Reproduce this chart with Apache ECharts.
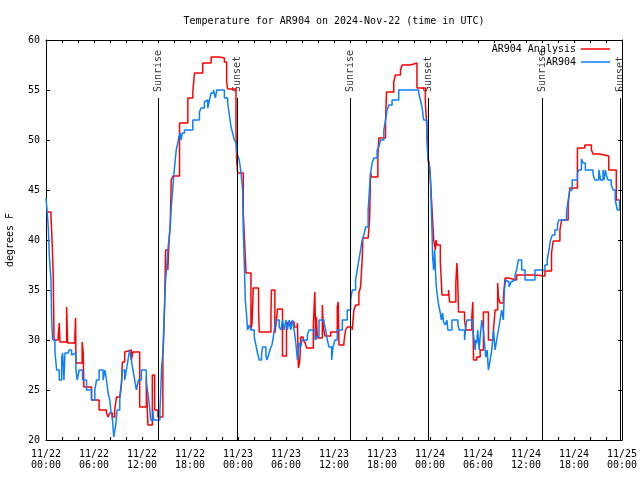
<!DOCTYPE html>
<html>
<head>
<meta charset="utf-8">
<script src="https://cdn.jsdelivr.net/npm/echarts@6/dist/echarts.min.js"></script>
<style>html,body{margin:0;padding:0;background:#fff}#c{width:640px;height:480px}</style>
</head>
<body>
<div id="c"></div>
<script>
const titleText = 'Temperature for AR904 on 2024-Nov-22 (time in UTC)';
const yAxisName = 'degrees F';
const seriesNames = ['AR904 Analysis', 'AR904'];
const tickDates = ['11/22','11/22','11/22','11/22','11/23','11/23','11/23','11/23','11/24','11/24','11/24','11/24','11/25'];
const tickTimes = ['00:00','06:00','12:00','18:00','00:00','06:00','12:00','18:00','00:00','06:00','12:00','18:00','00:00'];
const sunEventNames = ['Sunrise','Sunset','Sunrise','Sunset','Sunrise','Sunset'];
const sunEventHours = [14.04, 23.91, 38.06, 47.79, 62.04, 71.81];

// [hours since 11/22 00:00 UTC, degrees F]
const analysisPoints = [[0,42.8],[0.62,42.4],[0.78,39.5],[0.91,36.3],[1.0,30],[1.53,30.5],[1.66,31.7],[1.74,29.8],[2.58,33.3],[2.70,29.7],[3.61,30.3],[3.70,32.2],[3.74,27.7],[4.52,29.8],[4.65,28.7],[4.73,25.3],[5.69,24],[6.64,23],[7.56,22.7],[7.76,22.3],[7.97,22.7],[8.31,22.3],[8.59,23],[8.81,24.3],[9.22,24.2],[9.43,25.7],[9.55,27.8],[9.84,28.8],[10.05,29],[10.67,28],[10.87,28.8],[11.71,23.3],[12.54,26.3],[12.62,24],[12.74,21.5],[13.29,26.5],[13.58,23],[13.99,22.3],[14.61,28.3],[14.7,30],[14.82,33.3],[14.95,39],[15.23,37],[15.36,39.5],[15.53,41.7],[15.66,46],[15.86,46.4],[16.69,51.7],[17.73,54.2],[18.35,54.8],[18.56,56.7],[19.59,57.7],[20.64,58.3],[21.67,58.2],[22.3,57.8],[22.58,55.8],[22.71,55.1],[23.75,51],[23.83,48],[23.95,46.7],[24.66,42.7],[24.91,38.3],[25.0,36.7],[25.62,31],[25.75,31.7],[25.91,35.2],[26.57,33],[26.66,30.8],[28.12,32.8],[28.19,35],[28.61,30.7],[28.74,31.5],[28.94,33.1],[29.56,28.4],[30.06,31.3],[30.18,31.8],[30.39,31.4],[30.6,31.8],[31.02,31.3],[31.43,31.7],[31.55,27.2],[31.73,28],[31.85,30.3],[32.14,30],[32.39,29.7],[32.6,29.2],[33.42,31.5],[33.6,34.8],[33.72,30],[33.8,32.3],[33.92,30.2],[34.54,33.5],[34.67,31.2],[34.88,30.4],[35.59,30.8],[36.41,33.3],[36.53,33.8],[36.62,29.5],[37.24,29.8],[37.45,31],[37.66,31.3],[38.28,31],[38.49,33],[38.7,33.5],[39.11,34.7],[39.32,35.3],[39.52,38],[39.61,40.2],[40.27,40.3],[40.45,42],[40.57,46.7],[40.7,46.3],[41.48,48.3],[41.6,50.2],[42.44,51.7],[42.56,54.8],[43.47,55.8],[43.68,56.5],[44.31,57],[44.51,57.5],[45.55,57.7],[46.37,55.2],[47.42,53.8],[47.62,51],[47.75,48.3],[47.96,47.3],[48.17,44.3],[48.33,42],[48.46,40],[48.67,39],[48.75,40],[48.87,39.5],[49.29,37.8],[49.5,34.5],[50.32,35],[50.45,33.8],[51.23,35.7],[51.36,37.7],[51.45,36.3],[51.57,32.8],[52.32,32],[52.48,31],[53.23,32.3],[53.35,33.8],[53.44,28],[53.85,28.3],[54.27,29],[54.68,32.8],[55.3,30],[55.93,31],[56.14,33],[56.46,35.7],[56.55,34.3],[56.76,33.7],[57.17,34.3],[57.38,36.2],[57.8,36],[58.83,36.5],[61.12,36.4],[62.37,36.9],[63.19,38.7],[63.4,39.9],[64.24,41],[64.45,42],[65.27,43.5],[65.48,45.2],[66.43,49.2],[67.35,49.5],[68.18,49],[68.38,48.6],[69.22,48.4],[70.34,47],[71.29,44],[71.7,44]];

const observedPoints = [[0,44.2],[0.16,42.7],[0.29,41.2],[0.41,38.5],[0.62,36],[0.71,32],[0.83,30],[1.12,28.8],[1.33,27],[1.66,26],[1.96,28.2],[2.08,28.7],[2.24,26],[2.37,28.7],[2.78,28.5],[2.9,29],[3.2,28.5],[3.4,28.7],[3.74,27],[3.9,26],[4.15,27],[4.57,26],[5.07,25],[5.69,24],[6.1,25],[6.32,26],[6.64,27],[7.14,26],[7.35,27],[7.56,26],[7.76,24.7],[7.97,24],[8.1,23],[8.31,22],[8.47,20.3],[8.72,21.5],[8.88,23],[9.22,24],[9.43,25.5],[9.55,27],[9.84,26],[10.05,27],[10.25,28],[10.46,29],[10.67,28],[10.87,27],[11.09,26],[11.3,25],[11.55,26],[11.92,27],[12.54,25.7],[12.74,24.7],[12.95,23.3],[13.08,22],[13.37,23],[13.45,22],[14.24,23],[14.32,24.3],[14.45,27.3],[14.61,28.7],[14.74,31.7],[14.86,34.3],[14.95,36],[15.03,36.7],[15.23,39],[15.36,40],[15.53,41.3],[15.66,43.3],[15.86,45.3],[16.07,47.3],[16.28,49],[16.48,49.7],[16.6,50.3],[16.78,50.7],[16.9,50],[17.03,50.7],[17.31,51],[18.35,52],[19.18,52.8],[19.39,53.2],[19.8,53.8],[20.02,54],[20.22,53.2],[20.43,54],[20.64,54.7],[20.93,55],[21.18,54.2],[21.34,55],[22.3,54.2],[22.71,53.7],[22.92,52.5],[23.13,51.3],[23.33,50.7],[23.54,50],[23.75,49.7],[23.83,49],[23.95,48.5],[24.16,48],[24.38,46.7],[24.58,45],[24.66,41],[24.79,37.7],[24.91,34],[25.07,32.5],[25.2,31],[25.41,31.5],[25.62,31],[26.03,30.3],[26.24,29.5],[26.44,28.7],[26.66,28],[26.94,28.5],[27.07,29.3],[27.49,28.5],[27.62,28],[27.82,28.5],[27.99,29],[28.24,29.5],[28.4,30.2],[28.53,31],[28.74,32],[29.15,31.3],[29.36,31],[29.56,32],[29.77,31],[29.98,32],[30.18,31],[30.39,32],[30.6,31],[30.8,32],[31.02,31],[31.23,29.7],[31.43,28],[31.64,29.7],[31.85,29.3],[31.98,30],[32.67,30.5],[32.88,31],[33.63,30],[33.79,30.3],[34.13,32],[34.75,31.7],[34.96,31],[35.16,30],[35.38,29.3],[35.71,28],[35.87,29.3],[36.12,30],[36.41,31],[37.04,32],[37.66,33],[38.08,34],[38.28,35],[38.7,36],[38.9,37],[39.11,38],[39.32,39],[39.52,40],[39.74,40.5],[39.95,41.3],[40.27,43],[40.45,45.3],[40.57,46.7],[40.77,47.7],[40.98,48.2],[41.39,49],[41.6,49.3],[41.82,50],[42.23,51],[42.44,52],[42.64,53],[42.85,53.5],[43.26,54],[44.09,55],[46.59,54.7],[46.8,54],[47.0,53.3],[47.21,52],[47.62,50],[47.75,48],[47.92,47.3],[48.04,46.5],[48.25,41],[48.33,38.3],[48.46,37],[48.58,39],[48.75,35.7],[48.87,34.7],[49.08,33.5],[49.29,32.7],[49.42,32],[49.58,32.7],[49.7,31.8],[49.91,31.5],[50.11,32],[50.24,31],[50.74,32],[51.49,31.5],[51.66,31],[52.32,30],[52.41,30.8],[52.6,32],[53.31,31],[53.44,30.5],[53.65,29],[53.72,30],[53.85,29.7],[53.97,31],[54.15,29],[54.27,30.3],[54.47,32],[54.68,31],[54.81,29.7],[54.97,28.3],[55.14,29],[55.3,27],[55.52,28],[55.72,29],[55.93,31],[56.14,29],[56.34,30],[56.55,31],[56.76,32],[56.96,33],[57.17,32],[57.3,35],[57.46,36],[57.71,35.8],[57.88,35.3],[58.13,35.8],[58.29,36],[58.63,36.5],[58.83,37],[59.04,38],[59.46,37],[59.88,36],[61.12,37],[62.37,37.5],[62.65,38],[62.87,39],[63.07,40],[63.28,40.5],[63.61,41],[63.94,41.6],[64.11,42],[65.06,42.7],[65.27,44],[65.48,45],[65.77,46],[66.43,46.7],[66.6,47],[66.93,48.1],[67.14,47.7],[67.42,47],[68.38,46.6],[68.6,46],[69.1,47],[69.34,46],[69.63,47],[69.75,46],[69.92,47],[70.04,46.5],[70.25,46],[70.66,45.5],[70.88,45],[71.16,44],[71.41,43],[71.7,44]];

const FONT = 'DejaVu Sans Mono';
const chart = echarts.init(document.getElementById('c'), null, {renderer: 'canvas'});

const xAxisBase = {
  type: 'value', min: 0, max: 72, interval: 6,
  axisLine: {show: true, onZero: false, lineStyle: {color: '#000', width: 1}},
  axisTick: {show: true, inside: true, length: 3, lineStyle: {color: '#000'}},
  minorTick: {show: true, splitNumber: 3, length: 3, lineStyle: {color: '#000'}},
  splitLine: {show: false}
};
const yAxisBase = {
  type: 'value', min: 20, max: 60, interval: 5,
  axisLine: {show: true, onZero: false, lineStyle: {color: '#000', width: 1}},
  axisTick: {show: true, inside: true, length: 4, lineStyle: {color: '#000'}},
  splitLine: {show: false}
};

const option = {
  animation: false,
  backgroundColor: '#fff',
  textStyle: {fontFamily: FONT, fontSize: 10, color: '#000'},
  title: {
    text: titleText, left: 334, top: 16, textAlign: 'center', padding: 0,
    textStyle: {fontFamily: FONT, fontSize: 10, fontWeight: 'normal', color: '#000'}
  },
  grid: {left: 46, right: 18, top: 40, bottom: 40, containLabel: false, outerBoundsMode: 'none'},
  legend: {
    data: seriesNames, orient: 'vertical', right: 30, top: 44, align: 'right',
    icon: 'path://M0,0H58V3H0Z',
    itemWidth: 29, itemHeight: 10, itemGap: 3, padding: 0,
    textStyle: {fontFamily: FONT, fontSize: 10, color: '#000'}
  },
  xAxis: [
    Object.assign({}, xAxisBase, {
      position: 'bottom',
      axisLabel: {
        show: true, margin: 9, color: '#000', fontFamily: FONT, fontSize: 10, lineHeight: 11,
        formatter: function (v) { const i = Math.round(v / 6); return tickDates[i] + '\n' + tickTimes[i]; }
      }
    }),
    Object.assign({}, xAxisBase, {position: 'top', axisLabel: {show: false}})
  ],
  yAxis: [
    Object.assign({}, yAxisBase, {
      position: 'left',
      name: yAxisName, nameLocation: 'middle', nameGap: 31, nameRotate: 90,
      nameTextStyle: {fontFamily: FONT, fontSize: 10, color: '#000'},
      axisLabel: {show: true, margin: 6, color: '#000', fontFamily: FONT, fontSize: 10}
    }),
    Object.assign({}, yAxisBase, {position: 'right', axisLabel: {show: false}})
  ],
  series: [
    {
      name: seriesNames[0], type: 'line', step: 'end', symbol: 'none', showSymbol: false,
      xAxisIndex: 0, yAxisIndex: 0,
      lineStyle: {color: '#ff0000', width: 1.5}, itemStyle: {color: '#ff0000'},
      data: analysisPoints, z: 3
    },
    {
      name: seriesNames[1], type: 'line', step: 'end', symbol: 'none', showSymbol: false,
      xAxisIndex: 0, yAxisIndex: 0,
      lineStyle: {color: '#0a80ff', width: 1.5}, itemStyle: {color: '#0a80ff'},
      data: observedPoints, z: 4
    },
    {
      name: 'sun', type: 'scatter', xAxisIndex: 0, yAxisIndex: 0, silent: true,
      symbol: 'circle', symbolSize: 1, itemStyle: {color: 'rgba(0,0,0,0)'},
      data: sunEventHours.map((h, i) => [h, 54.8, sunEventNames[i]]),
      label: {
        show: true, position: 'inside', rotate: 90, align: 'left', verticalAlign: 'middle',
        color: '#000', fontFamily: FONT, fontSize: 10,
        formatter: p => p.data[2]
      },
      markLine: {
        silent: true, symbol: 'none', animation: false,
        label: {show: false},
        lineStyle: {color: '#000', width: 1, type: 'solid'},
        data: sunEventHours.map(h => [{coord: [h, 20]}, {coord: [h, 54.2]}])
      },
      z: 2
    }
  ]
};
chart.setOption(option);
</script>
</body>
</html>
